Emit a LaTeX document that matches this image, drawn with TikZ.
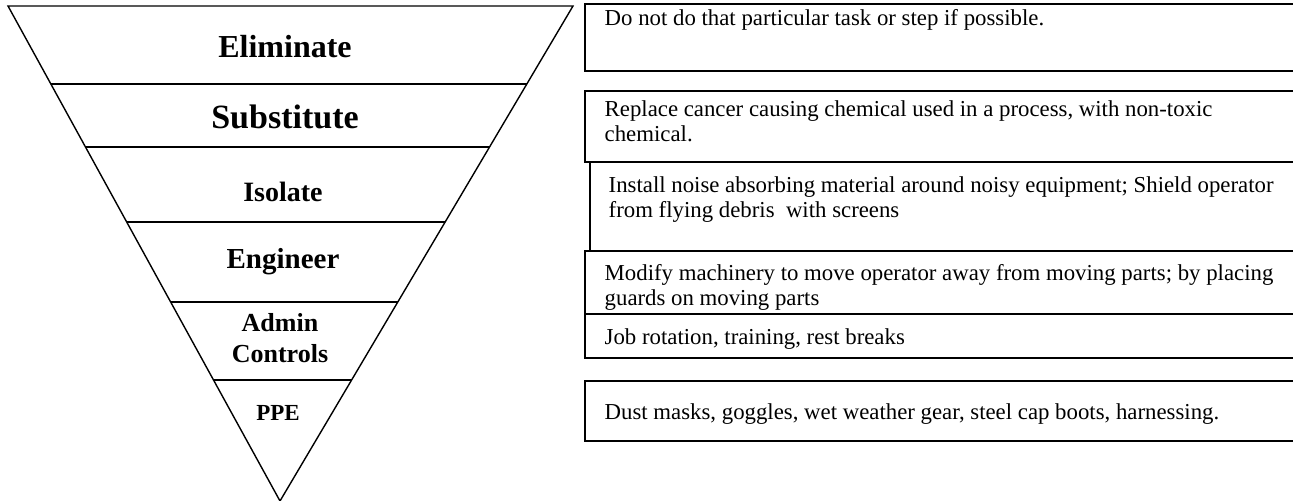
\documentclass[tikz,border=0pt]{standalone}
\usepackage{fontspec}
\setmainfont{Liberation Serif}
\usetikzlibrary{calc}

\tikzset{
	lvl/.style={font=\bfseries\fontsize{#1}{#1}\selectfont, align=center, inner sep=0pt},
	descbox/.style={draw, line width=0.8pt, anchor=north west, inner sep=0pt, minimum width=362pt},
	desc/.style={anchor=north west, align=left, inner sep=0pt, font=\fontsize{11.4}{12.5}\selectfont},
}

\begin{document}
\begin{tikzpicture}[x=0.5pt, y=-0.5pt, line width=0.7pt]
	\useasboundingbox (0,0) rectangle (1293,501);

	% inverted triangle
	\coordinate (TL) at (8,6);
	\coordinate (TR) at (573,6);
	\coordinate (V) at (280,501);
	\draw (TL) -- (TR) -- (V) -- cycle;
	\foreach \yy in {84,147,222,302,380} {
		\pgfmathsetmacro\f{(\yy-6)/495}
		\draw ($(TL)!\f!(V)$) -- ($(TR)!\f!(V)$);
	}

	\node[lvl=16] (elim) at (285,47) {Eliminate};
	\node[lvl=17] (subst) at (285,117) {Substitute};
	\node[lvl=14] (isol) at (283,192) {Isolate};
	\node[lvl=14.5] (eng) at (283,262) {Engineer};
	\node[lvl=13, font=\bfseries\fontsize{13}{15.5}\selectfont] (admin) at (280,338) {Admin\\Controls};
	\node[lvl=11.5] (ppe) at (278,413) {PPE};

	% boxes on the right
	\node[descbox, minimum height=33.5pt] (b1) at (584,3) {};
	\node[descbox, minimum height=35.5pt] (b2) at (584,90) {};
	\node[descbox, minimum height=44.5pt] (b3) at (589,161) {};
	\node[descbox, minimum height=31.5pt] (b4) at (584,250) {};
	\node[descbox, minimum height=22pt] (b5) at (584,313) {};
	\node[descbox, minimum height=30pt] (b6) at (584,380) {};

	\node[desc] (t1) at ([shift={(20,6)}]b1.north west) {Do not do that particular task or step if possible.};
	\node[desc] (t2) at ([shift={(20,10)}]b2.north west) {Replace cancer causing chemical used in a process, with non-toxic\\chemical.};
	\node[desc] (t3) at ([shift={(19,15)}]b3.north west) {Install noise absorbing material around noisy equipment; Shield operator\\from flying debris~ with screens};
	\node[desc] (t4) at ([shift={(20,14)}]b4.north west) {Modify machinery to move operator away from moving parts; by placing\\guards on moving parts};
	\node[desc] (t5) at ([shift={(20,15)}]b5.north west) {Job rotation, training, rest breaks};
	\node[desc] (t6) at ([shift={(20,23)}]b6.north west) {Dust masks, goggles, wet weather gear, steel cap boots, harnessing.};
\end{tikzpicture}
\end{document}
